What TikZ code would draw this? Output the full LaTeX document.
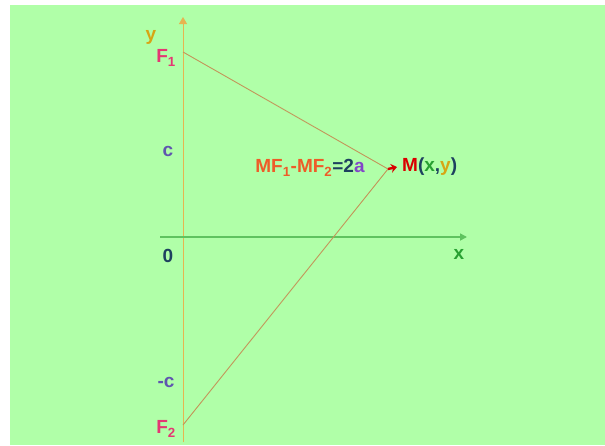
\documentclass[tikz,border=0pt]{standalone}
\usepackage{fontspec}
\setsansfont{Liberation Sans}
\usepackage{xcolor}
\usetikzlibrary{arrows.meta,positioning}
\definecolor{bggreen}{RGB}{176,255,168}
\definecolor{yaxcol}{RGB}{230,180,80}
\definecolor{xaxcol}{RGB}{95,195,95}
\definecolor{chordcol}{RGB}{195,150,90}
\definecolor{focuscol}{RGB}{228,55,115}
\definecolor{ccol}{RGB}{95,85,175}
\definecolor{origcol}{RGB}{30,65,95}
\definecolor{eqcol}{RGB}{238,92,40}
\definecolor{acol}{RGB}{130,70,200}
\definecolor{xcol}{RGB}{40,160,50}
\definecolor{ycol}{RGB}{215,165,20}

\begin{document}
\begin{tikzpicture}[x=1pt,y=-1pt,>=Triangle,
      lbl/.style={font=\sffamily\bfseries\fontsize{19}{21}\selectfont,inner sep=0pt},
      chord/.style={draw=chordcol,line width=0.9pt}]
    \useasboundingbox (0,0) rectangle (605,445);
    \fill[white] (0,0) rectangle (605,445);
    \fill[bggreen] (10,5) rectangle (605,445);
    % points
    \coordinate (O) at (183,237);
    \coordinate (F1) at (183,52);
    \coordinate (F2) at (183,425);
    \coordinate (M) at (388,169);
    \coordinate (ybot) at (183,442);
    \coordinate (ytop) at (183,17);
    \coordinate (xleft) at (160,237);
    \coordinate (xright) at (467,237);
    % axes
    \draw[yaxcol,line width=1pt,-{Triangle[length=7pt,width=8pt]}] (ybot) -- (ytop);
    \draw[xaxcol,line width=1.6pt,-{Triangle[length=7pt,width=7pt]}] (xleft) -- (xright);
    % focal radii
    \draw[chord] (F1) -- (M) -- (F2);
    \draw[red!85!black,line width=2.4pt,-{Stealth[length=6pt,width=9pt]}] (M) -- ++(9,-2);
    % labels
    \node[lbl,text=ycol] (ylbl) at (151,37) {y};
    \node[lbl,text=focuscol] (f1lbl) at (166,58) {F\textsubscript{1}};
    \node[lbl,text=ccol] (clbl) at (168,151) {c};
    \node[lbl,text=origcol] (olbl) at (168,256) {0};
    \node[lbl,text=ccol] (mclbl) at (166,382) {-c};
    \node[lbl,text=focuscol] (f2lbl) at (166,429) {F\textsubscript{2}};
    \node[lbl,text=xcol] (xlbl) at (459,254) {x};
    \node[lbl] (eq) at (310,168) {\textcolor{eqcol}{MF\textsubscript{1}-MF\textsubscript{2}}\textcolor{origcol}{=2}\textcolor{acol}{a}};
    \node[lbl,right=14pt of M,yshift=2pt] (mlbl) {\textcolor{red!85!black}{M}\textcolor{origcol}{(}\textcolor{xcol}{x}\textcolor{origcol}{,}\textcolor{ycol}{y}\textcolor{origcol}{)}};
\end{tikzpicture}
\end{document}
